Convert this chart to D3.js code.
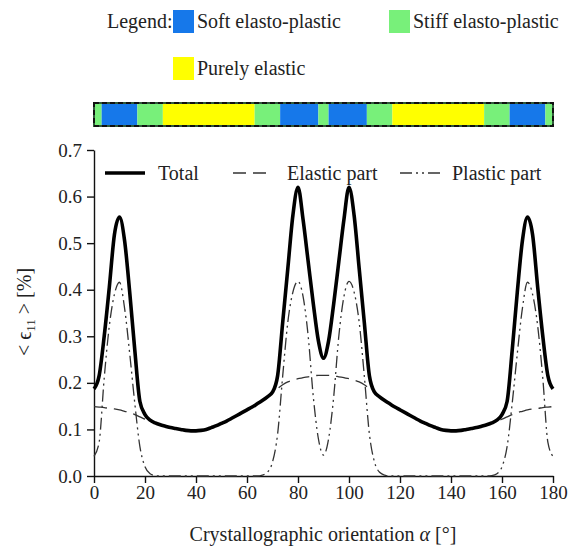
<!DOCTYPE html>
<html>
<head>
<meta charset="utf-8">
<script src="https://cdn.jsdelivr.net/npm/d3@7"></script>
<style>
  html, body { margin: 0; padding: 0; background: #fff; }
  svg { display: block; }
  svg text { font-family: "Liberation Serif", "Times New Roman", serif; }
</style>
</head>
<body>
<svg id="chart" width="570" height="547"></svg>
<script>
// Orientation angles (degrees)
const angles = [0,2,4,6,8,10,12,14,16,18,20,22,24,26,28,30,32,34,36,38,40,42,44,46,48,50,52,54,56,58,60,62,64,66,68,70,72,74,76,78,80,82,84,86,88,90,
  92,94,96,98,100,102,104,106,108,110,112,114,116,118,120,122,124,126,128,130,132,134,136,138,140,142,144,146,148,150,152,154,156,158,160,162,164,166,168,170,172,174,176,178,180];

// Total strain <eps11> [%]
const totalStrain = [0.187,0.215,0.300,0.405,0.518,0.556,0.505,0.395,0.270,0.160,0.132,0.120,0.114,0.110,0.107,0.104,0.102,0.100,0.098,0.097,0.097,0.098,0.100,0.104,0.108,0.113,0.118,0.124,0.130,0.136,0.142,0.148,0.155,0.162,0.170,0.180,0.215,0.330,0.445,0.560,0.620,0.550,0.460,0.370,0.290,0.253,
  0.290,0.370,0.460,0.550,0.620,0.560,0.445,0.330,0.215,0.180,0.170,0.162,0.155,0.148,0.142,0.136,0.130,0.124,0.118,0.113,0.108,0.104,0.100,0.098,0.097,0.097,0.098,0.100,0.102,0.104,0.107,0.110,0.114,0.120,0.132,0.160,0.270,0.395,0.505,0.556,0.518,0.405,0.300,0.215,0.187];

// Elastic part
const elasticStrain = [0.149,0.148,0.147,0.145,0.144,0.142,0.139,0.136,0.132,0.127,0.122,0.118,0.114,0.110,0.107,0.104,0.102,0.100,0.098,0.097,0.097,0.098,0.100,0.104,0.108,0.113,0.118,0.124,0.130,0.136,0.142,0.148,0.155,0.162,0.170,0.180,0.188,0.196,0.202,0.206,0.209,0.211,0.213,0.215,0.216,0.216,
  0.216,0.215,0.213,0.211,0.209,0.206,0.202,0.196,0.188,0.180,0.170,0.162,0.155,0.148,0.142,0.136,0.130,0.124,0.118,0.113,0.108,0.104,0.100,0.098,0.097,0.097,0.098,0.100,0.102,0.104,0.107,0.110,0.114,0.118,0.122,0.127,0.132,0.136,0.139,0.142,0.144,0.145,0.147,0.148,0.149];

// Plastic part
const plasticStrain = [0.042,0.072,0.210,0.322,0.390,0.416,0.360,0.263,0.156,0.063,0.020,0.005,0.001,0,0,0,0,0,0,0,0,0,0,0,0,0,0,0,0,0,0,0,0,0.002,0.008,0.030,0.090,0.215,0.330,0.395,0.418,0.385,0.300,0.170,0.080,0.045,
  0.080,0.170,0.300,0.385,0.418,0.395,0.330,0.215,0.090,0.030,0.008,0.002,0,0,0,0,0,0,0,0,0,0,0,0,0,0,0,0,0,0,0,0,0.001,0.005,0.020,0.063,0.156,0.263,0.360,0.416,0.390,0.322,0.210,0.072,0.042];

// Material behaviour bands along the orientation axis
const bandStart = [0,3,17,27,63,73,88,92,107,117,153,163,177];
const bandEnd   = [3,17,27,63,73,88,92,107,117,153,163,177,180];
const bandType  = ["stiff","soft","stiff","elastic","stiff","soft","stiff","soft","stiff","elastic","stiff","soft","stiff"];

const behaviourNames = {soft: "Soft elasto-plastic", stiff: "Stiff elasto-plastic", elastic: "Purely elastic"};
const behaviourColors = {soft: "#1678ea", stiff: "#78f07a", elastic: "#ffff00"};

const xTicks = [0,20,40,60,80,100,120,140,160,180];
const yTicks = [0,0.1,0.2,0.3,0.4,0.5,0.6,0.7];

const serif = "'Liberation Serif', 'Times New Roman', serif";
const svg = d3.select("#chart");

const x = d3.scaleLinear().domain([0, 180]).range([94, 553]);
const y = d3.scaleLinear().domain([0, 0.7]).range([476, 150]);

// ---- Top legend for the behaviour bands ----
const legend = svg.append("g").attr("font-family", serif).attr("font-size", 20).attr("fill", "#222");
legend.append("text").attr("x", 107).attr("y", 28).text("Legend:");
const legendItems = [
  {key: "soft", x: 173, y: 10},
  {key: "stiff", x: 389, y: 10},
  {key: "elastic", x: 173, y: 57}
];
legendItems.forEach(d => {
  legend.append("rect").attr("x", d.x).attr("y", d.y).attr("width", 21).attr("height", 23)
    .attr("fill", behaviourColors[d.key]);
  legend.append("text").attr("x", d.x + 24).attr("y", d.y + 18).text(behaviourNames[d.key]);
});

// ---- Behaviour band strip ----
const strip = svg.append("g");
strip.selectAll("rect.band")
  .data(bandType.map((t, i) => ({t, s: bandStart[i], e: bandEnd[i]})))
  .join("rect")
  .attr("class", "band")
  .attr("x", d => x(d.s))
  .attr("y", 103)
  .attr("width", d => x(d.e) - x(d.s))
  .attr("height", 23)
  .attr("fill", d => behaviourColors[d.t]);
strip.append("rect")
  .attr("x", x(0)).attr("y", 103).attr("width", x(180) - x(0)).attr("height", 23)
  .attr("fill", "none").attr("stroke", "#2f5a3a").attr("stroke-width", 2);
strip.append("rect")
  .attr("x", x(0)).attr("y", 103).attr("width", x(180) - x(0)).attr("height", 23)
  .attr("fill", "none").attr("stroke", "#111").attr("stroke-width", 2)
  .attr("stroke-dasharray", "5,3");

// ---- Axes ----
const gx = svg.append("g").attr("transform", "translate(0,476)")
  .call(d3.axisBottom(x).tickValues(xTicks).tickSize(7).tickSizeOuter(0).tickPadding(3));
const gy = svg.append("g").attr("transform", "translate(94,0)")
  .call(d3.axisLeft(y).tickValues(yTicks).tickFormat(d3.format(".1f")).tickSize(7).tickSizeOuter(0).tickPadding(5));
[gx, gy].forEach(g => {
  g.attr("font-family", serif).attr("font-size", 19);
  g.selectAll("path, line").attr("stroke", "#111").attr("stroke-width", 1.4);
  g.selectAll("text").attr("fill", "#222");
});

// Axis titles
const xTitle = svg.append("text").attr("x", 323).attr("y", 541).attr("text-anchor", "middle")
  .attr("font-family", serif).attr("font-size", 20).attr("fill", "#222");
xTitle.append("tspan").text("Crystallographic orientation ");
xTitle.append("tspan").attr("font-style", "italic").text("α");
xTitle.append("tspan").text(" [°]");

const yTitle = svg.append("text").attr("transform", "translate(31,312) rotate(-90)")
  .attr("text-anchor", "middle").attr("font-family", serif).attr("font-size", 20).attr("fill", "#222");
yTitle.append("tspan").text("< ϵ");
yTitle.append("tspan").attr("dy", 4).attr("font-size", 13).text("11");
yTitle.append("tspan").attr("dy", -4).text(" > [%]");

// ---- Curves ----
const series = [
  {name: "Total", values: totalStrain, width: 3.6, dash: null, color: "#000"},
  {name: "Elastic part", values: elasticStrain, width: 1.3, dash: "13,7", color: "#333"},
  {name: "Plastic part", values: plasticStrain, width: 1.3, dash: "12,4,2,4,2,4", color: "#333"}
];
const line = d3.line().x(d => x(d[0])).y(d => y(d[1])).curve(d3.curveMonotoneX);

svg.append("g").selectAll("path")
  .data(series.slice().reverse())
  .join("path")
  .attr("d", s => line(angles.map((a, i) => [a, s.values[i]])))
  .attr("fill", "none")
  .attr("stroke", s => s.color)
  .attr("stroke-width", s => s.width)
  .attr("stroke-dasharray", s => s.dash)
  .attr("stroke-linejoin", "round");

// ---- Line legend ----
const lineLegend = svg.append("g").attr("font-family", serif).attr("font-size", 20).attr("fill", "#222");
const lineLegendPos = [
  {lx: 105, tx: 158},
  {lx: 233, tx: 287},
  {lx: 400, tx: 452}
];
series.forEach((s, i) => {
  const p = lineLegendPos[i];
  lineLegend.append("line")
    .attr("x1", p.lx).attr("x2", p.lx + 40).attr("y1", 173).attr("y2", 173)
    .attr("stroke", s.color).attr("stroke-width", s.width)
    .attr("stroke-dasharray", s.dash);
  lineLegend.append("text").attr("x", p.tx).attr("y", 180).text(s.name);
});
</script>
</body>
</html>
